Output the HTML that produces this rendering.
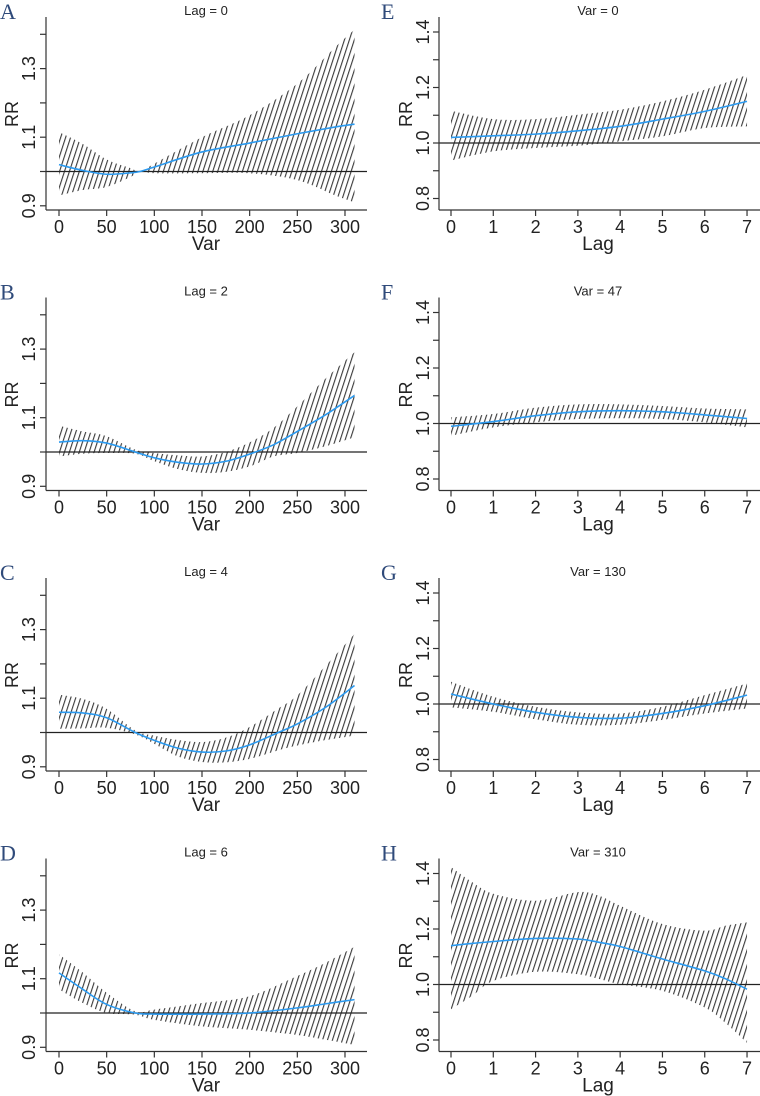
<!DOCTYPE html>
<html><head><meta charset="utf-8"><style>
html,body{margin:0;padding:0;background:#fff;}
svg{display:block;}
text{font-family:"Liberation Sans",sans-serif;fill:#222;}
.lt{font-family:"Liberation Serif",serif;fill:#2f4a7a;font-size:22px;}
</style></head><body>
<svg id="fig" width="760" height="1096" viewBox="0 0 760 1096" xmlns="http://www.w3.org/2000/svg">
<defs>
<pattern id="hatch" patternUnits="userSpaceOnUse" width="4.7" height="20" patternTransform="rotate(18)">
<line x1="1.5" y1="0" x2="1.5" y2="20" stroke="#3a3a3a" stroke-width="1.1"/>
</pattern>
</defs>
</svg>
<script>
// Panel A (Lag = 0)
const varX = [0,25,50,75,85,100,150,200,250,290,310];
const aFit = [1.02,1.003,0.992,0.996,1.0,1.013,1.057,1.083,1.11,1.13,1.138];
const aUp  = [1.115,1.08,1.035,1.01,1.0,1.023,1.10,1.164,1.256,1.363,1.414];
const aLo  = [0.93,0.946,0.955,0.984,1.0,0.995,0.995,0.995,0.975,0.93,0.91];
// Panel B (Lag = 2)
const varXB = [0,25,50,80,100,125,150,175,200,225,250,280,310];
const bFit = [1.029,1.033,1.026,1.0,0.983,0.97,0.965,0.973,0.994,1.021,1.06,1.109,1.165];
const bUp  = [1.077,1.06,1.046,1.007,0.997,0.99,0.987,1.0,1.028,1.07,1.133,1.215,1.291];
const bLo  = [0.987,0.995,0.997,0.995,0.973,0.95,0.939,0.942,0.958,0.987,0.997,1.017,1.043];
// Panel C (Lag = 4)
const varXC = [0,25,50,80,100,125,150,175,200,230,250,280,310];
const cFit = [1.059,1.057,1.043,1.0,0.977,0.954,0.943,0.946,0.964,1.0,1.025,1.074,1.137];
const cUp  = [1.11,1.098,1.069,1.006,0.991,0.978,0.972,0.985,1.016,1.07,1.108,1.195,1.287];
const cLo  = [1.011,1.012,1.014,0.994,0.967,0.93,0.914,0.913,0.923,0.948,0.962,0.978,0.991];
// Panel D (Lag = 6)
const varXD = [0,25,50,80,100,150,200,250,280,310];
const dFit = [1.117,1.069,1.025,1.0,0.997,0.997,1.0,1.015,1.027,1.039];
const dUp  = [1.171,1.118,1.059,1.005,1.01,1.029,1.049,1.108,1.147,1.193];
const dLo  = [1.069,1.029,1.0,0.995,0.98,0.961,0.951,0.936,0.922,0.907];
// Right column: lag 0..7
const lagX = [0,1,2,3,4,5,6,7];
const eFit = [1.02,1.026,1.032,1.044,1.06,1.086,1.114,1.15];
const eUp  = [1.116,1.086,1.086,1.102,1.12,1.15,1.192,1.245];
const eLo  = [0.937,0.97,0.982,0.99,1.006,1.024,1.054,1.06];
const fFit = [0.99,1.007,1.028,1.042,1.046,1.042,1.031,1.018];
const fUp  = [1.022,1.034,1.057,1.069,1.069,1.063,1.054,1.051];
const fLo  = [0.956,0.986,1.004,1.016,1.019,1.016,1.004,0.986];
const gFit = [1.036,1.0,0.97,0.952,0.949,0.966,0.994,1.032];
const gUp  = [1.08,1.026,0.99,0.97,0.966,0.99,1.032,1.074];
const gLo  = [0.988,0.972,0.945,0.925,0.925,0.943,0.966,0.984];
const lagXH = [0,0.5,1,2,3,3.5,4,5,6,6.5,7];
const hFit = [1.14,1.148,1.155,1.166,1.164,1.152,1.137,1.092,1.049,1.02,0.983];
const hUp  = [1.423,1.369,1.327,1.302,1.333,1.32,1.284,1.218,1.194,1.212,1.224];
const hLo  = [0.911,0.959,1.013,1.046,1.037,1.02,1.001,0.977,0.917,0.86,0.79];

const NS='http://www.w3.org/2000/svg';
const svg=document.getElementById('fig');
function mk(tag,attrs,parent){const e=document.createElementNS(NS,tag);for(const k in attrs)e.setAttribute(k,attrs[k]);(parent||svg).appendChild(e);return e;}
function smooth(pts){
  let d='M'+pts[0][0].toFixed(2)+','+pts[0][1].toFixed(2);
  for(let i=0;i<pts.length-1;i++){
    const p0=pts[Math.max(i-1,0)],p1=pts[i],p2=pts[i+1],p3=pts[Math.min(i+2,pts.length-1)];
    const c1=[p1[0]+(p2[0]-p0[0])/6,p1[1]+(p2[1]-p0[1])/6];
    const c2=[p2[0]-(p3[0]-p1[0])/6,p2[1]-(p3[1]-p1[1])/6];
    d+=' C'+c1[0].toFixed(2)+','+c1[1].toFixed(2)+' '+c2[0].toFixed(2)+','+c2[1].toFixed(2)+' '+p2[0].toFixed(2)+','+p2[1].toFixed(2);
  }
  return d;
}
function smoothRev(pts){ return smooth(pts.slice().reverse()).replace(/^M/,' L'); }

const panels=[
 {id:'a',letter:'A',title:'Lag = 0',col:0,row:0,x:varX,fit:aFit,up:aUp,lo:aLo},
 {id:'b',letter:'B',title:'Lag = 2',col:0,row:1,x:varXB,fit:bFit,up:bUp,lo:bLo},
 {id:'c',letter:'C',title:'Lag = 4',col:0,row:2,x:varXC,fit:cFit,up:cUp,lo:cLo},
 {id:'d',letter:'D',title:'Lag = 6',col:0,row:3,x:varXD,fit:dFit,up:dUp,lo:dLo},
 {id:'e',letter:'E',title:'Var = 0',col:1,row:0,x:lagX,fit:eFit,up:eUp,lo:eLo},
 {id:'f',letter:'F',title:'Var = 47',col:1,row:1,x:lagX,fit:fFit,up:fUp,lo:fLo},
 {id:'g',letter:'G',title:'Var = 130',col:1,row:2,x:lagX,fit:gFit,up:gUp,lo:gLo},
 {id:'h',letter:'H',title:'Var = 310',col:1,row:3,x:lagXH,fit:hFit,up:hUp,lo:hLo}
];
const leftTicksX=[0,50,100,150,200,250,300];
const leftTicksY=[0.9,1.0,1.1,1.2,1.3,1.4];
const leftLabelsY=['0.9','1.1','1.3'];
const rightTicksX=[0,1,2,3,4,5,6,7];
const rightTicksY=[0.8,0.9,1.0,1.1,1.2,1.3,1.4];
const rightLabelsY=['0.8','1.0','1.2','1.4'];

panels.forEach(p=>{
  const oy=p.row*280.5;
  const L=p.col===0;
  const g=mk('g',{transform:'translate(0,'+oy+')'});
  
  
  const axL=L?46:439, axR=L?367:760, axB=210, axT=17;
  const sx=L?(v=>59+v*0.9533):(v=>451+v*42.29);
  const sy=L?(v=>171.5-(v-1)*343):(v=>143-(v-1)*277.5);
  const cx=L?206:598;
  const lt=mk('text',{x:L?0:381,y:19,class:'lt'},g);lt.textContent=p.letter;
  
  
  const tt=mk('text',{x:cx,y:15,'font-size':'13','text-anchor':'middle'},g);tt.textContent=p.title;
  
  
  const up=p.x.map((v,i)=>[sx(v),sy(p.up[i])]);
  const lo=p.x.map((v,i)=>[sx(v),sy(p.lo[i])]);
  const band=mk('path',{d:smooth(up)+smoothRev(lo)+' Z',fill:'url(#hatch)',stroke:'none'},g);
  
  
  const rl=mk('line',{x1:axL,x2:axR,y1:sy(1),y2:sy(1),stroke:'#222','stroke-width':'1.2'},g);
  
  
  const fp=p.x.map((v,i)=>[sx(v),sy(p.fit[i])]);
  const fl=mk('path',{d:smooth(fp),fill:'none',stroke:'#2b9af0','stroke-width':'1.6'},g);
  
  
  const xa=mk('line',{x1:axL,x2:axR,y1:axB,y2:axB,stroke:'#333','stroke-width':'1.2'},g);
  
  
  const ya=mk('line',{x1:axL,x2:axL,y1:axT,y2:axB,stroke:'#333','stroke-width':'1.2'},g);
  
  
  (L?leftTicksX:rightTicksX).forEach(v=>{
    mk('line',{x1:sx(v),x2:sx(v),y1:axB,y2:axB+6,stroke:'#333','stroke-width':'1.2'},g);
    const t=mk('text',{x:sx(v),y:233,'font-size':'18','text-anchor':'middle'},g);t.textContent=String(v);
    
    
  });
  (L?leftTicksY:rightTicksY).forEach(v=>{
    mk('line',{x1:axL-6,x2:axL,y1:sy(v),y2:sy(v),stroke:'#333','stroke-width':'1.2'},g);
  });
  (L?leftLabelsY:rightLabelsY).forEach(s=>{
    const yy=sy(parseFloat(s)), xx=L?35:429;
    const t=mk('text',{x:xx,y:yy,'font-size':'18','text-anchor':'middle',transform:'rotate(-90 '+xx+' '+yy+')'},g);t.textContent=s;
    
    
  });
  const xl=mk('text',{x:cx,y:250,'font-size':'19','text-anchor':'middle'},g);xl.textContent=L?'Var':'Lag';
  
  
  const rx=L?18:412;
  const yl=mk('text',{x:rx,y:114,'font-size':'18','text-anchor':'middle',transform:'rotate(-90 '+rx+' 114)'},g);yl.textContent='RR';
  
  
});
</script>
</body></html>
